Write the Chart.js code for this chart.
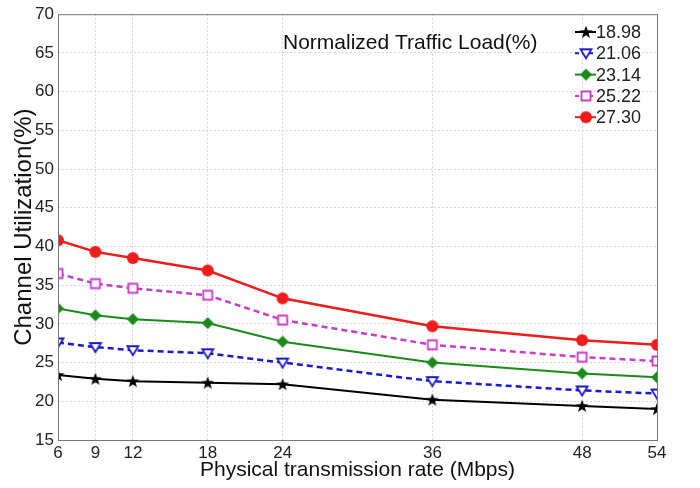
<!DOCTYPE html>
<html>
<head>
<meta charset="utf-8">
<script src="https://cdn.jsdelivr.net/npm/chart.js@4/dist/chart.umd.min.js"></script>
<style>
  html, body { margin: 0; padding: 0; background: #fff; }
  #wrap { width: 700px; height: 488px; }
</style>
</head>
<body>
<div id="wrap"><canvas id="chart"></canvas></div>
<script>
const rates = [6, 9, 12, 18, 24, 36, 48, 54];
const yTicks = [15, 20, 25, 30, 35, 40, 45, 50, 55, 60, 65, 70];
const loadLabels = ['18.98', '21.06', '23.14', '25.22', '27.30'];
const util1898 = [23.4, 22.9, 22.6, 22.4, 22.2, 20.2, 19.4, 19.0];
const util2106 = [27.6, 27.0, 26.6, 26.2, 25.0, 22.6, 21.4, 21.0];
const util2314 = [32.0, 31.1, 30.6, 30.1, 27.7, 25.0, 23.6, 23.1];
const util2522 = [36.5, 35.2, 34.6, 33.7, 30.5, 27.3, 25.7, 25.2];
const util2730 = [40.8, 39.3, 38.5, 36.9, 33.3, 29.7, 27.9, 27.3];

const FONT = "'Liberation Sans', Arial, sans-serif";

// marker images, shared by the lines and the legend
function makeMarker(kind, color) {
    const c = document.createElement('canvas');
    c.width = 16; c.height = 16;
    const g = c.getContext('2d');
    g.lineWidth = 1.8;
    g.strokeStyle = color;
    g.fillStyle = color;
    g.beginPath();
    if (kind === 'star') {
        for (let i = 0; i < 10; i++) {
            const r = i % 2 === 0 ? 6.8 : 2.8;
            const a = -Math.PI / 2 + i * Math.PI / 5;
            const px = 8 + r * Math.cos(a), py = 8.5 + r * Math.sin(a);
            if (i === 0) g.moveTo(px, py); else g.lineTo(px, py);
        }
        g.closePath();
        g.fill();
    } else if (kind === 'tri') {
        g.moveTo(2.5, 4); g.lineTo(13.5, 4); g.lineTo(8, 13);
        g.closePath();
        g.fillStyle = '#fff';
        g.fill(); g.stroke();
    } else if (kind === 'diamond') {
        g.moveTo(8, 2); g.lineTo(14, 8); g.lineTo(8, 14); g.lineTo(2, 8);
        g.closePath();
        g.fill();
    } else if (kind === 'square') {
        g.rect(3.5, 3.5, 9, 9);
        g.fillStyle = '#fff';
        g.fill(); g.stroke();
    } else {
        g.arc(8, 8, 6, 0, Math.PI * 2);
        g.fill();
    }
    return c;
}

const colors = ['#000000', '#1a1acc', '#1a8a1a', '#c83cc8', '#ee1c1c'];
const markers = [
    makeMarker('star', colors[0]),
    makeMarker('tri', colors[1]),
    makeMarker('diamond', colors[2]),
    makeMarker('square', colors[3]),
    makeMarker('circle', colors[4])
];
const series = [util1898, util2106, util2314, util2522, util2730];
const dashes = [[], [6, 4], [], [6, 4], []];
const widths = [2, 2.5, 2, 2.5, 2.5];

const datasets = series.map((vals, i) => ({
    label: loadLabels[i],
    data: rates.map((r, j) => ({ x: r, y: vals[j] })),
    borderColor: colors[i],
    borderWidth: widths[i],
    borderDash: dashes[i],
    pointStyle: markers[i],
    pointRadius: 6,
    tension: 0
}));

const framePlugin = {
    id: 'frame',
    afterDraw(chart) {
        const { ctx, chartArea: a } = chart;
        ctx.save();
        ctx.strokeStyle = '#777';
        ctx.lineWidth = 1;
        ctx.strokeRect(a.left + 0.5, a.top + 0.5, a.right - a.left, a.bottom - a.top);

        // annotation title
        ctx.fillStyle = '#111';
        ctx.font = '21px ' + FONT;
        ctx.textBaseline = 'middle';
        ctx.textAlign = 'left';
        ctx.fillText('Normalized Traffic Load(%)', 283, 43);

        // legend
        ctx.font = '18px ' + FONT;
        chart.data.datasets.forEach((ds, i) => {
            const y = 32 + i * 21.3;
            ctx.beginPath();
            ctx.strokeStyle = ds.borderColor;
            ctx.lineWidth = 2;
            ctx.setLineDash(ds.borderDash.length ? [4, 3] : []);
            ctx.moveTo(575, y);
            ctx.lineTo(596, y);
            ctx.stroke();
            ctx.setLineDash([]);
            ctx.drawImage(markers[i], 586 - 8, y - 8);
            ctx.fillStyle = '#222';
            ctx.fillText(ds.label, 596, y + 1);
        });
        ctx.restore();
    }
};

new Chart(document.getElementById('chart'), {
    type: 'line',
    data: { datasets },
    options: {
        responsive: true,
        maintainAspectRatio: false,
        animation: false,
        layout: { padding: { top: 12, right: 43, left: 0, bottom: 0 } },
        plugins: {
            legend: { display: false },
            tooltip: { enabled: false }
        },
        scales: {
            x: {
                type: 'linear',
                min: 6,
                max: 54,
                afterBuildTicks: axis => { axis.ticks = rates.map(v => ({ value: v })); },
                afterFit: axis => { axis.height = 48; },
                grid: { color: '#d8d8d8', drawTicks: false },
                border: { display: false, dash: [2, 2] },
                ticks: { color: '#222', font: { size: 17, family: FONT }, padding: 3, maxRotation: 0 },
                title: { display: true, text: 'Physical transmission rate (Mbps)', color: '#111', font: { size: 21, family: FONT }, padding: { top: 0, bottom: 5 } }
            },
            y: {
                min: 15,
                max: 70,
                afterBuildTicks: axis => { axis.ticks = yTicks.map(v => ({ value: v })); },
                afterFit: axis => { axis.width = 58; },
                grid: { color: '#d8d8d8', drawTicks: false },
                border: { display: false, dash: [2, 2] },
                ticks: { color: '#222', font: { size: 17, family: FONT }, padding: 4 },
                title: { display: true, text: 'Channel Utilization(%)', color: '#111', font: { size: 24, family: FONT }, padding: { top: 10, bottom: 0 } }
            }
        }
    },
    plugins: [framePlugin]
});
</script>
</body>
</html>
